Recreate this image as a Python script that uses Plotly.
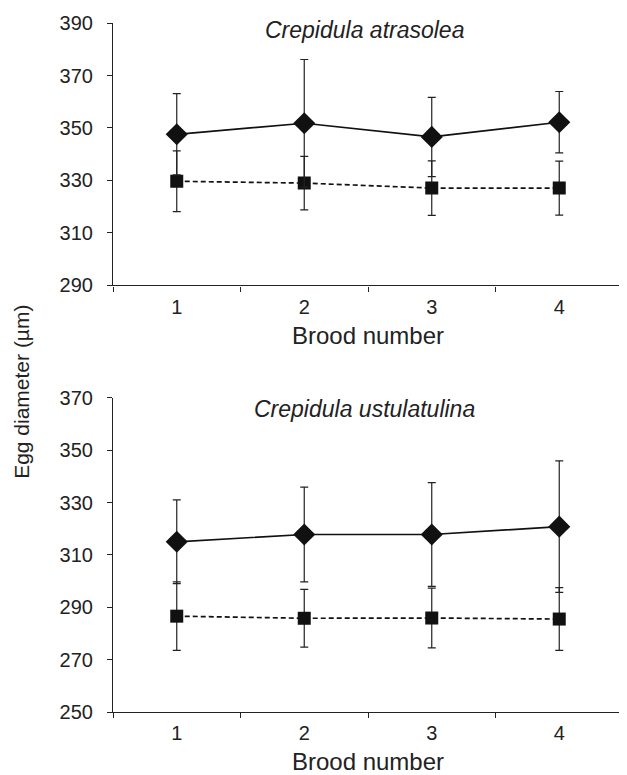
import plotly.graph_objects as go
from plotly.subplots import make_subplots

brood = [1, 2, 3, 4]
brood_labels = ["1", "2", "3", "4"]

# Crepidula atrasolea
atra_solid = [347.6, 351.8, 346.6, 352.2]
atra_solid_err = [15.5, 24.3, 15.1, 11.7]
atra_dash = [329.7, 329.0, 327.1, 327.1]
atra_dash_err = [11.6, 10.2, 10.4, 10.3]

# Crepidula ustulatulina
ustu_solid = [315.0, 317.8, 317.8, 320.8]
ustu_solid_err = [16.0, 18.1, 19.8, 25.1]
ustu_dash = [286.6, 285.8, 285.9, 285.5]
ustu_dash_err = [13.1, 11.0, 11.4, 12.0]

top_ticks = [290, 310, 330, 350, 370, 390]
bot_ticks = [250, 270, 290, 310, 330, 350, 370]

FONT = "Liberation Sans, Arial, Helvetica, sans-serif"
INK = "#222222"

fig = make_subplots(rows=2, cols=1)

def add_series(row, y, err, dash, symbol, size):
    fig.add_trace(go.Scatter(
        x=brood, y=y, mode="lines+markers",
        line=dict(color="#111111", width=1.7, dash=dash),
        marker=dict(symbol=symbol, size=size, color="#111111"),
        error_y=dict(type="data", array=err, visible=True, color=INK,
                     thickness=1.2, width=4),
        showlegend=False), row=row, col=1)

add_series(1, atra_dash, atra_dash_err, "5px,3px", "square", 13)
add_series(1, atra_solid, atra_solid_err, "solid", "diamond", 17)
add_series(2, ustu_dash, ustu_dash_err, "5px,3px", "square", 13)
add_series(2, ustu_solid, ustu_solid_err, "solid", "diamond", 17)

# page is offset by the 8px body margin
W, Hfig = 619, 767
L, R, T, B = 105, 4, 11, 63
H = Hfig - T - B          # 693
PW = W - L - R            # 510
top_lo = (704 - 275) / H
bot_hi = (704 - 388) / H

axis_font = dict(family=FONT, size=20, color=INK)
xcommon = dict(range=[0.5, 4.5], tickvals=brood, ticktext=brood_labels, ticks="",
               showline=True, linecolor=INK, linewidth=1.2, showgrid=False,
               zeroline=False, tickfont=axis_font, ticklabelstandoff=3,
               minor=dict(tickvals=[0.5, 1.5, 2.5, 3.5, 4.5], ticks="outside",
                          ticklen=5, tickcolor=INK, tickwidth=1),
               title=dict(text="Brood number", standoff=10,
                          font=dict(family=FONT, size=24, color=INK)))
ycommon = dict(showline=True, linecolor=INK, linewidth=1.2, showgrid=False,
               zeroline=False, ticks="outside", ticklen=5, tickcolor=INK,
               tickfont=axis_font, ticklabelstandoff=10)

fig.update_layout(
    width=W, height=Hfig,
    margin=dict(l=L, r=R, t=T, b=B),
    paper_bgcolor="white", plot_bgcolor="white",
    xaxis=dict(domain=[0, 1], **xcommon),
    xaxis2=dict(domain=[0, 1], **xcommon),
    yaxis=dict(domain=[top_lo, 1], range=[290, 390], tickvals=top_ticks, **ycommon),
    yaxis2=dict(domain=[0, bot_hi], range=[250, 370], tickvals=bot_ticks, **ycommon),
)

title_font = dict(family=FONT, size=23, color=INK)
fig.add_annotation(text="<i>Crepidula atrasolea</i>", xref="paper", yref="paper",
                   x=0.494, y=1.0, yanchor="middle", showarrow=False, font=title_font, yshift=-7)
fig.add_annotation(text="<i>Crepidula ustulatulina</i>", xref="paper", yref="paper",
                   x=0.494, y=bot_hi, yanchor="middle", showarrow=False, font=title_font, yshift=-11)
fig.add_annotation(text="Egg diameter (µm)", xref="paper", yref="paper",
                   x=(14 - L) / PW, y=(704 - 382) / H, textangle=-90,
                   showarrow=False, xanchor="center", yanchor="middle",
                   font=dict(family=FONT, size=21, color=INK))

fig.write_html("out.html")
